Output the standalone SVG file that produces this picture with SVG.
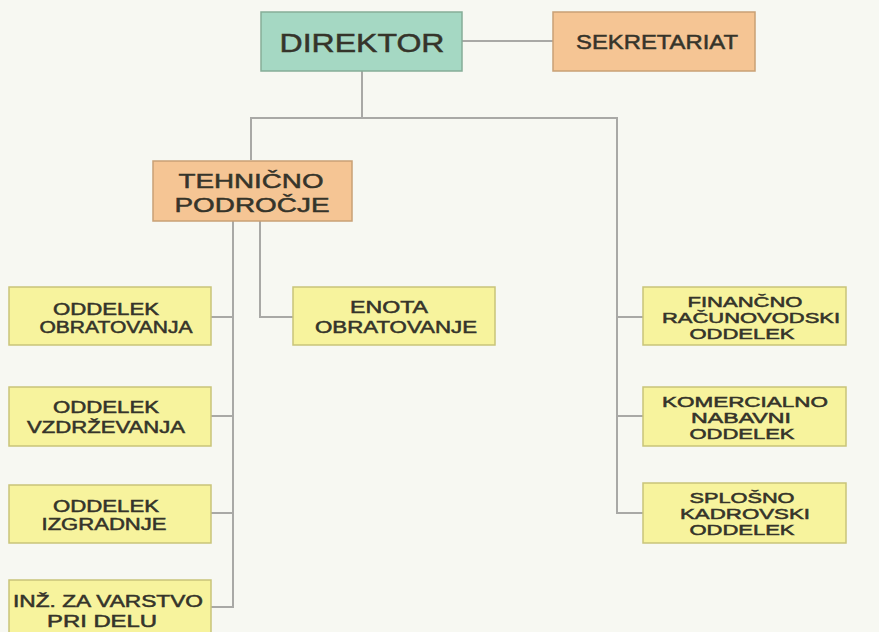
<svg xmlns="http://www.w3.org/2000/svg" width="879" height="632" viewBox="0 0 879 632">
<style>
.bg{fill:#f7f8f2}
.c{fill:none;stroke:#a9a9a6;stroke-width:2}
.teal{fill:#a5d8c3;stroke:#86ad98;stroke-width:1.5}
.orange{fill:#f5c594;stroke:#c9a075;stroke-width:1.5}
.yellow{fill:#f7f39d;stroke:#c9c47a;stroke-width:1.5}
text{font-family:"Liberation Sans",Arial,sans-serif;fill:#35342a;stroke:#35342a;stroke-width:0.5;text-anchor:middle}
.s{font-size:16px}
.r{font-size:14px}
</style>
<rect class="bg" x="0" y="0" width="879" height="632"/>
<g id="connectors">
<line class="c" x1="462" y1="41" x2="553" y2="41"/>
<polyline class="c" points="362,71 362,118"/>
<polyline class="c" points="251,160 251,118 617,118 617,513 643,513"/>
<line class="c" x1="617" y1="317" x2="643" y2="317"/>
<line class="c" x1="617" y1="416" x2="643" y2="416"/>
<polyline class="c" points="233,221 233,607 211,607"/>
<line class="c" x1="211" y1="317" x2="233" y2="317"/>
<line class="c" x1="211" y1="416" x2="233" y2="416"/>
<line class="c" x1="211" y1="513" x2="233" y2="513"/>
<polyline class="c" points="260,221 260,317 293,317"/>
</g>
<g id="direktor">
<rect class="teal" x="261" y="12" width="201" height="59"/>
<text x="362" y="52" font-size="26" textLength="165" lengthAdjust="spacingAndGlyphs">DIREKTOR</text>
</g>
<g id="sekretariat">
<rect class="orange" x="553" y="12" width="202" height="59"/>
<text x="657" y="49" font-size="21" textLength="162" lengthAdjust="spacingAndGlyphs">SEKRETARIAT</text>
</g>
<g id="tehnicno">
<rect class="orange" x="153" y="161" width="199" height="60"/>
<text x="251" y="188" font-size="21" textLength="145" lengthAdjust="spacingAndGlyphs">TEHNIČNO</text>
<text x="252" y="212" font-size="21" textLength="155" lengthAdjust="spacingAndGlyphs">PODROČJE</text>
</g>
<g id="enota">
<rect class="yellow" x="293" y="287" width="202" height="58"/>
<text class="s" x="389" y="313" textLength="78" lengthAdjust="spacingAndGlyphs">ENOTA</text>
<text class="s" x="396" y="333" textLength="162" lengthAdjust="spacingAndGlyphs">OBRATOVANJE</text>
</g>
<g id="obratovanja">
<rect class="yellow" x="9" y="287" width="202" height="58"/>
<text class="s" x="106" y="315" textLength="106" lengthAdjust="spacingAndGlyphs">ODDELEK</text>
<text class="s" x="116" y="333" textLength="153" lengthAdjust="spacingAndGlyphs">OBRATOVANJA</text>
</g>
<g id="vzdrzevanja">
<rect class="yellow" x="9" y="387" width="202" height="59"/>
<text class="s" x="106" y="413" textLength="106" lengthAdjust="spacingAndGlyphs">ODDELEK</text>
<text class="s" x="106" y="433" textLength="158" lengthAdjust="spacingAndGlyphs">VZDRŽEVANJA</text>
</g>
<g id="izgradnje">
<rect class="yellow" x="9" y="485" width="202" height="58"/>
<text class="s" x="106" y="512" textLength="106" lengthAdjust="spacingAndGlyphs">ODDELEK</text>
<text class="s" x="104" y="530" textLength="125" lengthAdjust="spacingAndGlyphs">IZGRADNJE</text>
</g>
<g id="varstvo">
<rect class="yellow" x="9" y="580" width="202" height="60"/>
<text class="s" x="108" y="607" textLength="190" lengthAdjust="spacingAndGlyphs">INŽ. ZA VARSTVO</text>
<text class="s" x="102" y="627" textLength="110" lengthAdjust="spacingAndGlyphs">PRI DELU</text>
</g>
<g id="financno">
<rect class="yellow" x="643" y="287" width="203" height="58"/>
<text class="r" x="745" y="307" textLength="115" lengthAdjust="spacingAndGlyphs">FINANČNO</text>
<text class="r" x="751" y="323" textLength="178" lengthAdjust="spacingAndGlyphs">RAČUNOVODSKI</text>
<text class="r" x="742" y="339" textLength="105" lengthAdjust="spacingAndGlyphs">ODDELEK</text>
</g>
<g id="komercialno">
<rect class="yellow" x="643" y="387" width="203" height="59"/>
<text class="r" x="745" y="407" textLength="166" lengthAdjust="spacingAndGlyphs">KOMERCIALNO</text>
<text class="r" x="741" y="423" textLength="100" lengthAdjust="spacingAndGlyphs">NABAVNI</text>
<text class="r" x="742" y="439" textLength="105" lengthAdjust="spacingAndGlyphs">ODDELEK</text>
</g>
<g id="splosno">
<rect class="yellow" x="643" y="483" width="203" height="60"/>
<text class="r" x="742" y="503" textLength="105" lengthAdjust="spacingAndGlyphs">SPLOŠNO</text>
<text class="r" x="745" y="519" textLength="130" lengthAdjust="spacingAndGlyphs">KADROVSKI</text>
<text class="r" x="742" y="535" textLength="105" lengthAdjust="spacingAndGlyphs">ODDELEK</text>
</g>
</svg>
